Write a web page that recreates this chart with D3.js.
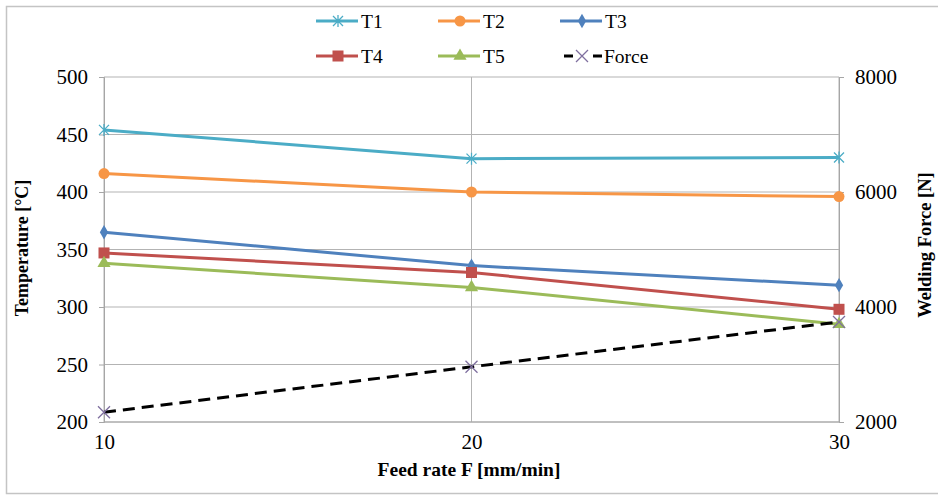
<!DOCTYPE html>
<html>
<head>
<meta charset="utf-8">
<script src="https://cdn.jsdelivr.net/npm/d3@7"></script>
<style>
  body { margin: 0; background: #fff; }
</style>
</head>
<body>
<svg id="chart" width="938" height="495"></svg>
<script>
// feed rate (x) and the series
var feedRates = [10, 20, 30];
var t1 = [454, 429, 430];
var t2 = [416, 400, 396];
var t3 = [365, 336, 319];
var t4 = [347, 330, 298];
var t5 = [338, 317, 285];
var force = [2170, 2960, 3740];

var tempTicks = [200, 250, 300, 350, 400, 450, 500];
var forceTicks = [2000, 4000, 6000, 8000];
var xTicks = [10, 20, 30];

var serif = '"Liberation Serif", "Times New Roman", "DejaVu Serif", serif';

var series = [
  {name: 'T1', values: t1, color: '#4bacc6', marker: 'star'},
  {name: 'T2', values: t2, color: '#f79646', marker: 'circle'},
  {name: 'T3', values: t3, color: '#4f81bd', marker: 'diamond'},
  {name: 'T4', values: t4, color: '#c0504d', marker: 'square'},
  {name: 'T5', values: t5, color: '#9bbb59', marker: 'triangle'}
];

var svg = d3.select('#chart');

// outer frame
svg.append('rect').attr('x', 6.5).attr('y', 6.5).attr('width', 960).attr('height', 487)
  .attr('fill', 'none').attr('stroke', '#c4c4c4').attr('stroke-width', 1.5);

var pLeft = 104, pRight = 839, pTop = 77, pBottom = 422;

var x = d3.scaleLinear().domain([10, 30]).range([pLeft, pRight]);
var y = d3.scaleLinear().domain([200, 500]).range([pBottom, pTop]);
var y2 = d3.scaleLinear().domain([2000, 8000]).range([pBottom, pTop]);

// grid
svg.append('g').selectAll('line').data(tempTicks).enter().append('line')
  .attr('x1', pLeft).attr('x2', pRight)
  .attr('y1', d => y(d)).attr('y2', d => y(d))
  .attr('stroke', '#b3b3b3').attr('stroke-width', 1);
svg.append('g').selectAll('line').data(xTicks).enter().append('line')
  .attr('x1', d => x(d)).attr('x2', d => x(d))
  .attr('y1', pTop).attr('y2', pBottom)
  .attr('stroke', '#b3b3b3').attr('stroke-width', 1);

// axes
var gLeft = svg.append('g').attr('transform', 'translate(' + pLeft + ',0)')
  .call(d3.axisLeft(y).tickValues(tempTicks).tickSize(5).tickPadding(11));
var gRight = svg.append('g').attr('transform', 'translate(' + pRight + ',0)')
  .call(d3.axisRight(y2).tickValues(forceTicks).tickSize(5).tickPadding(11).tickFormat(d3.format('d')));
var gBottom = svg.append('g').attr('transform', 'translate(0,' + pBottom + ')')
  .call(d3.axisBottom(x).tickValues(xTicks).tickSize(0).tickPadding(12));

[gLeft, gRight, gBottom].forEach(function (g) {
  g.attr('font-family', null).attr('font-size', null);
  g.selectAll('text').style('font-family', serif).style('font-size', '21px');
  g.selectAll('.domain').attr('stroke', '#a6a6a6');
  g.selectAll('.tick line').attr('stroke', '#a6a6a6');
});
gBottom.selectAll('.domain').remove();
svg.append('line').attr('x1', pLeft).attr('x2', pRight).attr('y1', pBottom).attr('y2', pBottom)
  .attr('stroke', '#a6a6a6');

// axis titles
svg.append('text').attr('transform', 'translate(28,' + 248 + ') rotate(-90)')
  .attr('text-anchor', 'middle').style('font-family', serif).style('font-size', '18px').style('font-weight', 'bold')
  .text('Temperature [°C]');
svg.append('text').attr('transform', 'translate(931,' + 245 + ') rotate(-90)')
  .attr('text-anchor', 'middle').style('font-family', serif).style('font-size', '18.5px').style('font-weight', 'bold')
  .text('Welding Force [N]');
svg.append('text').attr('x', 469).attr('y', 476)
  .attr('text-anchor', 'middle').style('font-family', serif).style('font-size', '19.5px').style('font-weight', 'bold')
  .text('Feed rate F [mm/min]');

function drawMarker(g, type, color, cx, cy) {
  if (type === 'circle') {
    g.append('circle').attr('cx', cx).attr('cy', cy).attr('r', 5.5).attr('fill', color);
  } else if (type === 'square') {
    g.append('rect').attr('x', cx - 5.5).attr('y', cy - 5.5).attr('width', 11).attr('height', 11).attr('fill', color);
  } else if (type === 'diamond') {
    g.append('path').attr('d', d3.symbol(d3.symbolDiamond, 60)()).attr('transform', 'translate(' + cx + ',' + cy + ')').attr('fill', color);
  } else if (type === 'triangle') {
    g.append('path').attr('d', d3.symbol(d3.symbolTriangle, 75)()).attr('transform', 'translate(' + cx + ',' + cy + ')').attr('fill', color);
  } else if (type === 'star') {
    g.append('path').attr('d', 'M-5,-5L5,5M-5,5L5,-5M0,-6L0,6').attr('transform', 'translate(' + cx + ',' + cy + ')')
      .attr('stroke', color).attr('stroke-width', 1.3).attr('fill', 'none');
  } else if (type === 'cross') {
    g.append('path').attr('d', 'M-6,-6L6,6M-6,6L6,-6').attr('transform', 'translate(' + cx + ',' + cy + ')')
      .attr('stroke', color).attr('stroke-width', 1.3).attr('fill', 'none');
  }
}

var line = d3.line().x((d, i) => x(feedRates[i])).y(d => y(d));
var line2 = d3.line().x((d, i) => x(feedRates[i])).y(d => y2(d));

series.forEach(function (s) {
  var g = svg.append('g');
  g.append('path').attr('d', line(s.values)).attr('fill', 'none')
    .attr('stroke', s.color).attr('stroke-width', 3);
  s.values.forEach((v, i) => drawMarker(g, s.marker, s.color, x(feedRates[i]), y(v)));
});

var gf = svg.append('g');
gf.append('path').attr('d', line2(force)).attr('fill', 'none')
  .attr('stroke', '#000').attr('stroke-width', 3).attr('stroke-dasharray', '12,7');
force.forEach((v, i) => drawMarker(gf, 'cross', '#7f6f9f', x(feedRates[i]), y2(v)));

// legend
var legend = [
  {name: 'T1', color: '#4bacc6', marker: 'star', lx: 316, ly: 21},
  {name: 'T2', color: '#f79646', marker: 'circle', lx: 438, ly: 21},
  {name: 'T3', color: '#4f81bd', marker: 'diamond', lx: 560, ly: 21},
  {name: 'T4', color: '#c0504d', marker: 'square', lx: 316, ly: 56},
  {name: 'T5', color: '#9bbb59', marker: 'triangle', lx: 438, ly: 56},
  {name: 'Force', color: '#000', marker: 'cross', lx: 560, ly: 56, dashed: true}
];
legend.forEach(function (d) {
  var g = svg.append('g');
  g.append('line').attr('x1', d.lx + (d.dashed ? 4 : 0)).attr('x2', d.lx + 42).attr('y1', d.ly).attr('y2', d.ly)
    .attr('stroke', d.color).attr('stroke-width', 3)
    .attr('stroke-dasharray', d.dashed ? '9,20,9' : null);
  drawMarker(g, d.marker, d.dashed ? '#7f6f9f' : d.color, d.lx + 22, d.ly);
  g.append('text').attr('x', d.lx + (d.dashed ? 44 : 45)).attr('y', d.ly + 7)
    .style('font-family', serif).style('font-size', '19.5px').text(d.name);
});
</script>
</body>
</html>
